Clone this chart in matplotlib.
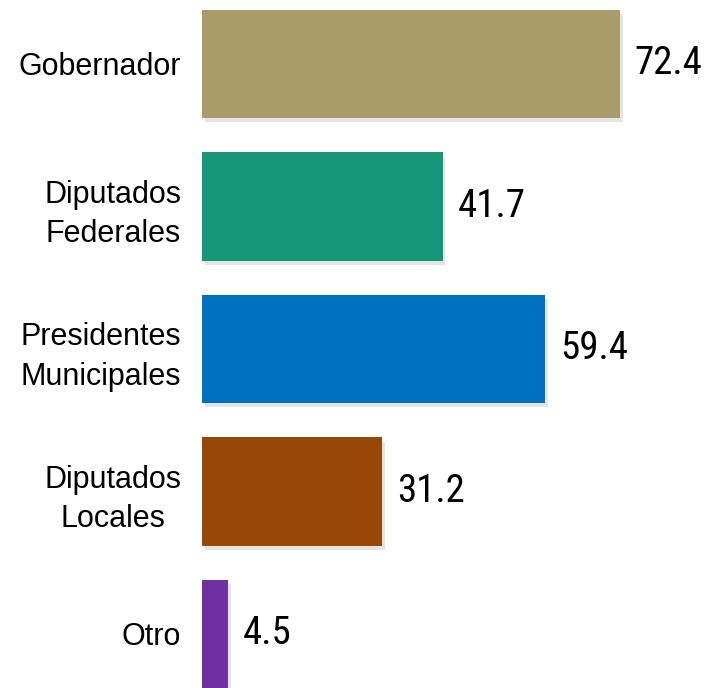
import matplotlib.pyplot as plt
import matplotlib.patheffects as pe
from matplotlib import font_manager

categorias = ['Gobernador', 'Diputados\nFederales', 'Presidentes\nMunicipales',
              'Diputados\nLocales', 'Otro']
valores = [72.4, 41.7, 59.4, 31.2, 4.5]
colores = ['#A99B6A', '#17977A', '#0070C0', '#974706', '#7030A0']

# fuente estrecha para los numeros (la que haya)
nombres = {f.name for f in font_manager.fontManager.ttflist}
fuente_num = 'DejaVu Sans'
for cand in ['Roboto Condensed', 'Liberation Sans Narrow', 'Open Sans Condensed']:
    if cand in nombres:
        fuente_num = cand
        break

fig = plt.figure(figsize=(7.05, 6.88), dpi=100)
ax = fig.add_axes([202 / 705, 0, 502 / 705, 1])

pos = list(range(len(categorias)))
barras = ax.barh(pos, valores, height=0.76, color=colores)
for b in barras:
    b.set_path_effects([pe.SimplePatchShadow(offset=(2, -3), alpha=0.2, shadow_rgbFace='gray'),
                        pe.Normal()])

for p, v in zip(pos, valores):
    ax.text(v + 2.6, p, f'{v:.1f}', va='center', ha='left',
            fontsize=28, family=fuente_num, fontstretch='condensed', color='black')

ax.set_xlim(0, 87)
ax.set_ylim(4.379, -0.449)
ax.set_yticks(pos)
ax.set_yticklabels(categorias, fontsize=22, family='Liberation Sans',
                   multialignment='center', linespacing=1.4)
ax.tick_params(axis='y', length=0, pad=15)
ax.set_xticks([])
for s in ax.spines.values():
    s.set_visible(False)

fig.savefig('out.png', dpi=100)
